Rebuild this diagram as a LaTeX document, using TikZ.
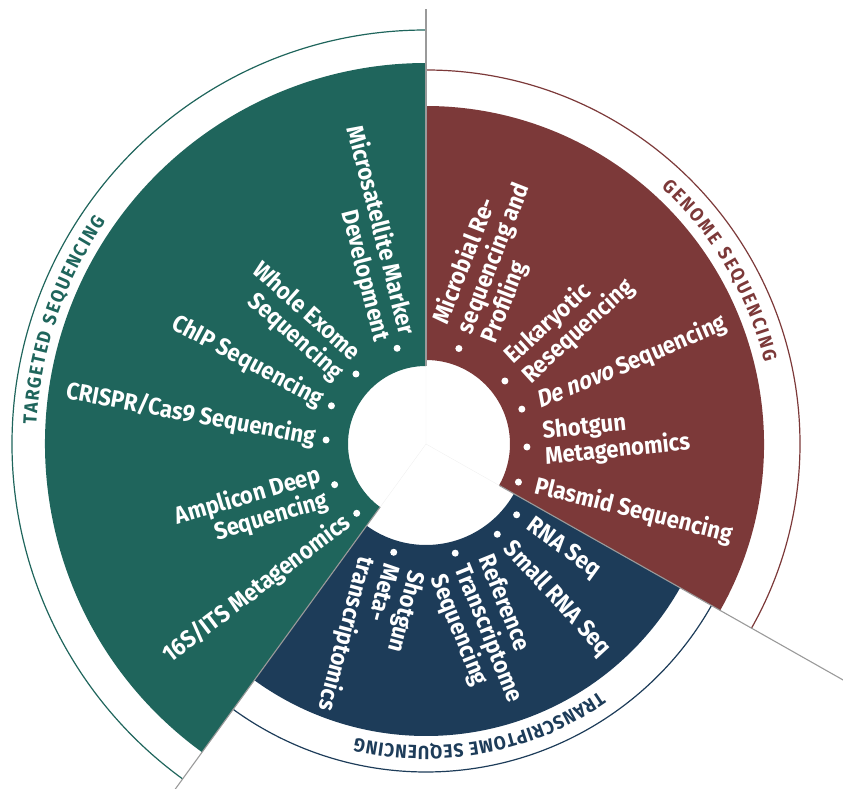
\documentclass[tikz,border=0pt]{standalone}
\usepackage{fontspec}
\newfontfamily\labelfont[FakeStretch=0.92]{Fira Sans}
\newfontfamily\novofont[FakeStretch=0.92, FakeSlant=0.22]{Fira Sans}
\usetikzlibrary{calc, decorations.text}

\definecolor{tgtgreen}{HTML}{1F655C}
\definecolor{genred}{HTML}{7C3939}
\definecolor{trnavy}{HTML}{1D3C59}
\definecolor{splitgray}{HTML}{9A9A9A}

\begin{document}
\begin{tikzpicture}[x=1pt, y=1pt,
  item/.style={font=\labelfont\bfseries\fontsize{24}{26}\selectfont, text=white, inner sep=0pt},
  bulletdot/.style={circle, fill=white, minimum size=7pt, inner sep=0pt},
  splitline/.style={splitgray, line width=1.1pt},
  ringline/.style={line width=1.2pt}]
\useasboundingbox (-426,-345) rectangle (417,444);
\coordinate (hub) at (0,0);
% Sector fills
\fill[tgtgreen] (90:78) arc[start angle=90, end angle=234, radius=78] -- (234:381) arc[start angle=234, end angle=90, radius=381] -- cycle;
\fill[genred] (90:84) arc[start angle=90, end angle=-29.5, radius=84] -- (-29.5:338) arc[start angle=-29.5, end angle=90, radius=338] -- cycle;
\fill[trnavy] (-29.5:101) arc[start angle=-29.5, end angle=-126, radius=101] -- (-126:292) arc[start angle=-126, end angle=-29.5, radius=292] -- cycle;
% Outer rings
\draw[tgtgreen, ringline] (90:414) arc[start angle=90, end angle=234, radius=414];
\draw[genred, ringline] (90:374) arc[start angle=90, end angle=-29.5, radius=374];
\draw[trnavy, ringline] (-29.5:328) arc[start angle=-29.5, end angle=-126, radius=328];
% Dividers
\draw[black!6] (hub) -- (90:78) (hub) -- (-29.5:84) (hub) -- (234:78);
\draw[splitline] (90:78) -- (90:435);
\draw[splitline] (-29.5:84) -- (-29.5:490);
\draw[splitline] (234:78) -- (234:430);
% Ring titles
\path[decorate, decoration={text along path, text align=fit to path,
  text={|\labelfont\bfseries\fontsize{19}{19}\selectfont\color{tgtgreen}|TARGETED SEQUENCING}}]
  (177.2:390) arc[start angle=177.2, end angle=145.2, radius=390];
\path[decorate, decoration={text along path, text align=fit to path,
  text={|\labelfont\bfseries\fontsize{19}{19}\selectfont\color{genred}|GENOME SEQUENCING}}]
  (47.5:348) arc[start angle=47.5, end angle=13.5, radius=348];
\path[decorate, decoration={text along path, text align=fit to path,
  text={|\labelfont\bfseries\fontsize{19}{19}\selectfont\color{trnavy}|TRANSCRIPTOME SEQUENCING}}]
  (-55:302) arc[start angle=-55, end angle=-103.5, radius=302];
% Genome sequencing items
\node[bulletdot] (mbd) at (71:101) {};
\node[item, align=left, rotate=68.6, anchor=west] (mbt) at ([shift={(68.6:17)}]mbd) {Microbial Re-\\sequencing and\\Profiling};
\node[bulletdot] (eud) at (38.6:101) {};
\node[item, align=left, rotate=42.5, anchor=west] (eut) at ([shift={(42.5:17)}]eud) {Eukaryotic\\Resequencing};
\node[bulletdot] (dnd) at (20:102) {};
\node[item, rotate=23, anchor=west] (dnt) at ([shift={(23:17)}]dnd) {{\novofont\bfseries De novo} Sequencing};
\node[bulletdot] (smd) at (-1.7:101) {};
\node[item, align=left, rotate=6, anchor=west] (smt) at ([shift={(6:17)}]smd) {Shotgun\\Metagenomics};
\node[bulletdot] (psd) at (-22.4:100) {};
\node[item, rotate=-14, anchor=west] (pst) at ([shift={(-14:17)}]psd) {Plasmid Sequencing};
% Targeted sequencing items
\node[bulletdot] (msd) at (106.8:100) {};
\node[item, align=right, rotate=-75.6, anchor=east] (mst) at ([shift={(104.4:11)}]msd) {Microsatellite Marker\\Development};
\node[bulletdot] (wed) at (135:99) {};
\node[item, align=right, rotate=-41.6, anchor=east] (wet) at ([shift={(138.4:11)}]wed) {Whole Exome\\Sequencing};
\node[bulletdot] (chd) at (158:102) {};
\node[item, rotate=-28, anchor=east] (cht) at ([shift={(152:11)}]chd) {ChIP Sequencing};
\node[bulletdot] (crd) at (177.7:100) {};
\node[item, rotate=-10.6, anchor=east] (crt) at ([shift={(169.4:11)}]crd) {CRISPR/Cas9 Sequencing};
\node[bulletdot] (amd) at (204:100) {};
\node[item, align=right, rotate=16.4, anchor=east] (amt) at ([shift={(196.4:11)}]amd) {Amplicon Deep\\Sequencing};
\node[bulletdot] (itd) at (225:98) {};
\node[item, rotate=37.2, anchor=east] (itt) at ([shift={(217.2:11)}]itd) {16S/ITS Metagenomics};
% Transcriptome sequencing items
\node[bulletdot] (rnd) at (-38:115) {};
\node[item, rotate=-36, anchor=west] (rnt) at ([shift={(-36:15)}]rnd) {RNA Seq};
\node[bulletdot] (srd) at (-51.7:115) {};
\node[item, rotate=-47.3, anchor=west] (srt) at ([shift={(-47.3:15)}]srd) {Small RNA Seq};
\node[bulletdot] (rfd) at (-75:113) {};
\node[item, align=left, rotate=-68, anchor=west] (rft) at ([shift={(-68:14)}]rfd) {Reference\\Transcriptome\\Sequencing};
\node[bulletdot] (sgd) at (-106.6:113) {};
\node[item, align=left, rotate=-105, anchor=west] (sgt) at ([shift={(-105:12)}]sgd) {Shotgun\\Meta-\\transcriptomics};
\end{tikzpicture}
\end{document}
